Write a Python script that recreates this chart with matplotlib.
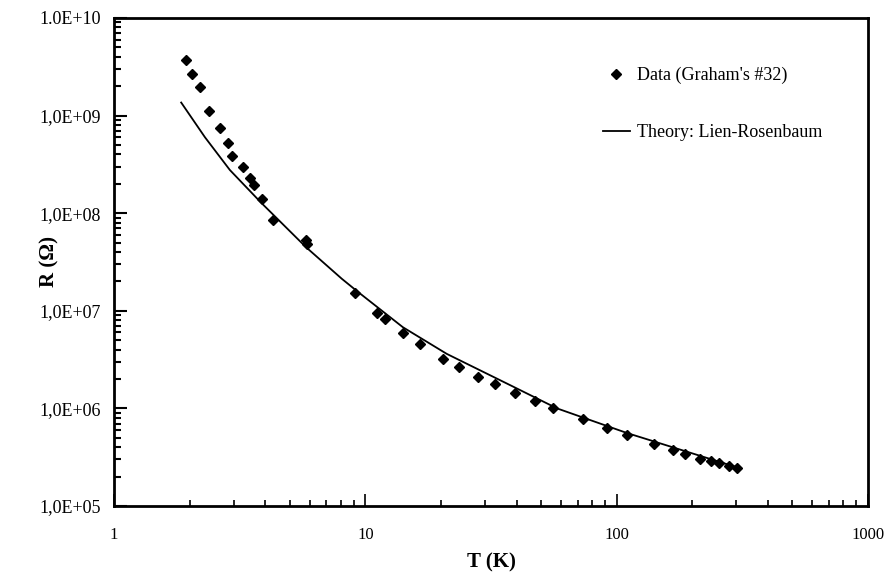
import matplotlib.pyplot as plt
from matplotlib.ticker import LogLocator, NullFormatter

# measured data (Graham's #32)
temp_data = [1.93, 2.05, 2.20, 2.38, 2.63, 2.85, 2.96, 3.25, 3.47, 3.62, 3.87, 4.29,
             5.79, 5.85, 9.12, 11.1, 11.95, 14.1, 16.55, 20.4, 23.7, 28.1, 32.9,
             39.3, 47.3, 55.8, 73.3, 91.6, 110, 141, 167, 188, 215, 237, 256, 280, 302]
res_data = [3.71e9, 2.69e9, 1.98e9, 1.12e9, 7.41e8, 5.27e8, 3.86e8, 2.97e8, 2.28e8,
            1.93e8, 1.41e8, 8.51e7, 5.31e7, 4.83e7, 1.51e7, 9.56e6, 8.18e6, 5.97e6,
            4.54e6, 3.23e6, 2.67e6, 2.11e6, 1.78e6, 1.45e6, 1.20e6, 1.01e6, 7.73e5,
            6.25e5, 5.31e5, 4.29e5, 3.75e5, 3.41e5, 3.05e5, 2.89e5, 2.74e5, 2.59e5, 2.43e5]

# Lien-Rosenbaum theory curve
temp_theory = [1.85, 2.3, 2.89, 3.85, 5.8, 8.06, 9.24, 14.1, 21.1, 38.8, 58, 110, 302]
res_theory = [1.36e9, 6.0e8, 2.77e8, 1.28e8, 4.5e7, 2.13e7, 1.6e7, 6.8e6, 3.62e6,
              1.67e6, 1.0e6, 5.6e5, 2.49e5]

x_ticks = [1, 10, 100, 1000]
x_labels = ["1", "10", "100", "1000"]
y_ticks = [1e5, 1e6, 1e7, 1e8, 1e9, 1e10]
y_labels = ["1,0E+05", "1,0E+06", "1,0E+07", "1,0E+08", "1,0E+09", "1.0E+10"]

plt.rcParams["font.family"] = ["Liberation Serif", "DejaVu Serif"]

fig = plt.figure(figsize=(8.91, 5.79), dpi=100)
ax = fig.add_axes([0.128, 0.126, 0.846, 0.843])

ax.plot(temp_data, res_data, "D", color="black", markersize=5.5, linestyle="none",
        label="Data (Graham's #32)")
ax.plot(temp_theory, res_theory, "-", color="black", linewidth=1.3,
        label="Theory: Lien-Rosenbaum")

ax.set_xscale("log")
ax.set_yscale("log")
ax.set_xlim(1, 1000)
ax.set_ylim(1e5, 1e10)

ax.set_xticks(x_ticks)
ax.set_xticklabels(x_labels)
ax.set_yticks(y_ticks)
ax.set_yticklabels(y_labels)
ax.xaxis.set_minor_locator(LogLocator(base=10, subs=range(2, 10)))
ax.yaxis.set_minor_locator(LogLocator(base=10, subs=range(2, 10)))
ax.xaxis.set_minor_formatter(NullFormatter())
ax.yaxis.set_minor_formatter(NullFormatter())

ax.tick_params(which="both", direction="in", top=False, right=False)
ax.tick_params(axis="x", which="major", length=9, width=1.2, pad=15, labelsize=12)
ax.tick_params(axis="x", which="minor", length=4, width=1.2)
ax.tick_params(axis="y", which="major", length=9, width=1.5, pad=9.5, labelsize=13)
ax.tick_params(axis="y", which="minor", length=5, width=1.5)

for side in ["left", "bottom", "top", "right"]:
    ax.spines[side].set_linewidth(2)

ax.set_xlabel("T (K)", fontsize=15, fontweight="bold")
ax.set_ylabel("R (\u03a9)", fontsize=15, fontweight="bold")
ax.xaxis.set_label_coords(0.5, -0.095)
ax.yaxis.set_label_coords(-0.073, 0.5)

ax.legend(loc="upper left", bbox_to_anchor=(0.627, 0.933), frameon=False,
          fontsize=13, handlelength=1.5, handletextpad=0.4, labelspacing=2.2,
          numpoints=1)

fig.savefig("out.png", dpi=100)
